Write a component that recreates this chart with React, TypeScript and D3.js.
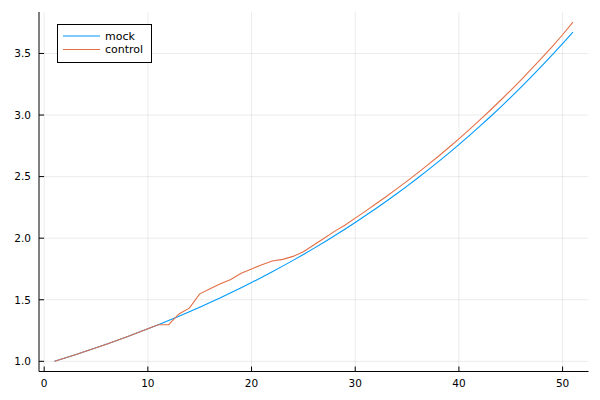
import React from "react";
import * as d3 from "d3";

const xs: number[] = Array.from({ length: 51 }, (_, i) => i + 1);

const mock: number[] = [
  1.0, 1.0264, 1.0534, 1.0812, 1.1097, 1.139, 1.169, 1.1999, 1.2315, 1.264,
  1.2973, 1.3315, 1.3667, 1.4027, 1.4397, 1.4777, 1.5166, 1.5566, 1.5977, 1.6398,
  1.6831, 1.7274, 1.773, 1.8198, 1.8678, 1.917, 1.9676, 2.0195, 2.0727, 2.1274,
  2.1835, 2.2411, 2.3002, 2.3608, 2.4231, 2.487, 2.5526, 2.6199, 2.689, 2.7599,
  2.8327, 2.9074, 2.984, 3.0627, 3.1435, 3.2264, 3.3115, 3.3988, 3.4884, 3.5804,
  3.673,
];

const control: number[] = [
  1.0, 1.0264, 1.0534, 1.0812, 1.1097, 1.139, 1.169, 1.1999, 1.2315, 1.264,
  1.297, 1.298, 1.385, 1.432, 1.548, 1.59, 1.63, 1.665, 1.715, 1.75,
  1.785, 1.815, 1.828, 1.852, 1.89, 1.945, 2.0, 2.055, 2.105, 2.163,
  2.22, 2.279, 2.339, 2.4, 2.463, 2.528, 2.595, 2.663, 2.734, 2.807,
  2.882, 2.958, 3.037, 3.118, 3.201, 3.286, 3.374, 3.464, 3.556, 3.652,
  3.754,
];

const xTicks: number[] = [0, 10, 20, 30, 40, 50];
const yTicks: number[] = [1.0, 1.5, 2.0, 2.5, 3.0, 3.5];

const seriesNames: string[] = ["mock", "control"];
const seriesColors: string[] = ["#009AFA", "#E36F47"];

const W = 600;
const H = 400;
const L = 39;
const R = 588.5;
const T = 12;
const B = 371.5;
const FONT = "'DejaVu Sans', sans-serif";

export default function App() {
  const x = d3.scaleLinear().domain([-0.5, 52.5]).range([L, R]);
  const y = d3.scaleLinear().domain([0.9173, 3.8367]).range([B, T]);
  const line = d3
    .line<number>()
    .x((_, i) => x(xs[i]))
    .y((d) => y(d));
  const series = [mock, control];

  return (
    <svg
      width={W}
      height={H}
      style={{ display: "block", position: "absolute", left: 0, top: 0, background: "#fff" }}
    >
      <rect x={0} y={0} width={W} height={H} fill="#fff" />
      {/* grid */}
      {xTicks.map((t) => (
        <line key={"gx" + t} x1={x(t)} x2={x(t)} y1={T} y2={B} stroke="#000" strokeOpacity={0.1} strokeWidth={0.8} />
      ))}
      {yTicks.map((t) => (
        <line key={"gy" + t} x1={L} x2={R} y1={y(t)} y2={y(t)} stroke="#000" strokeOpacity={0.1} strokeWidth={0.8} />
      ))}
      {/* series */}
      {series.map((s, i) => (
        <path key={seriesNames[i]} d={line(s) || ""} fill="none" stroke={seriesColors[i]} strokeWidth={1.1} />
      ))}
      {/* axes */}
      <line x1={L} x2={L} y1={T} y2={B} stroke="#000" strokeWidth={1} />
      <line x1={L} x2={R} y1={B} y2={B} stroke="#000" strokeWidth={1} />
      {xTicks.map((t) => (
        <g key={"tx" + t}>
          <line x1={x(t)} x2={x(t)} y1={B} y2={B - 5} stroke="#000" strokeWidth={1} />
          <text x={x(t)} y={387} textAnchor="middle" fontFamily={FONT} fontSize={10.5} fill="#000">
            {t}
          </text>
        </g>
      ))}
      {yTicks.map((t) => (
        <g key={"ty" + t}>
          <line x1={L} x2={L + 5} y1={y(t)} y2={y(t)} stroke="#000" strokeWidth={1} />
          <text x={31} y={y(t)} dy="0.36em" textAnchor="end" fontFamily={FONT} fontSize={10.5} fill="#000">
            {t.toFixed(1)}
          </text>
        </g>
      ))}
      {/* legend */}
      <rect x={57.5} y={24.5} width={94} height={38} fill="#fff" stroke="#000" strokeWidth={1} />
      {seriesNames.map((n, i) => (
        <g key={"lg" + n}>
          <line x1={63} x2={100} y1={36 + i * 13.5} y2={36 + i * 13.5} stroke={seriesColors[i]} strokeWidth={1.1} />
          <text x={105} y={36 + i * 13.5} dy="0.36em" fontFamily={FONT} fontSize={11} fill="#000">
            {n}
          </text>
        </g>
      ))}
    </svg>
  );
}
